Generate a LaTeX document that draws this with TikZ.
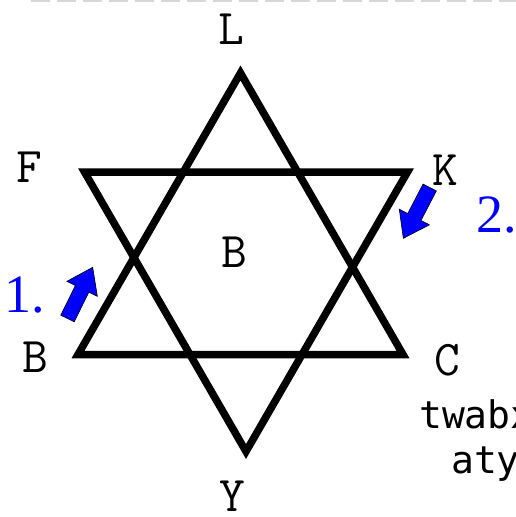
\documentclass[tikz,border=0pt]{standalone}
\usepackage{fontspec}
\usepackage{xcolor}
\usetikzlibrary{calc}
\newfontfamily\numfont{Liberation Serif}
\newfontfamily\notefont{DejaVu Sans Mono}
\definecolor{arrowblue}{RGB}{0,0,255}
\definecolor{dashgray}{RGB}{215,215,215}

% fat block arrow from a tail coordinate to a tip coordinate
\newcommand{\blockarrow}[2]{%
  \coordinate (#1hb) at ($(#2)!24pt!(#1)$);
  \draw[bigarrow]
    ($(#1)!7.5pt!90:(#2)$) -- ($(#1hb)!7.5pt!-90:(#1)$)
    -- ($(#1hb)!17pt!-90:(#1)$) -- (#2)
    -- ($(#1hb)!17pt!90:(#1)$) -- ($(#1hb)!7.5pt!90:(#1)$)
    -- ($(#1)!7.5pt!-90:(#2)$) -- cycle;}

\begin{document}
\begin{tikzpicture}[x=1pt, y=-1pt,
  star/.style={line width=7.5pt, line join=miter},
  lbl/.style={font=\ttfamily\fontsize{50}{60}\selectfont, inner sep=0pt},
  num/.style={font=\numfont\fontsize{54}{64}\selectfont, text=arrowblue,
    inner sep=0pt, anchor=base west},
  note/.style={font=\notefont\fontsize{38}{46}\selectfont, inner sep=0pt,
    anchor=base west},
  bigarrow/.style={fill=arrowblue, draw=black, line width=0.6pt,
    line join=miter},
]
  \useasboundingbox (0,0) rectangle (516,517);
  \clip (0,0) rectangle (516,517);

  % dashed rule along the top edge
  \draw[dashgray, line width=3pt, dash pattern=on 19pt off 7pt]
    (31,0) -- (530,0);

  % Star corners
  \coordinate (up)    at (240.5,73);
  \coordinate (upl)   at (78,354.5);
  \coordinate (upr)   at (403,354.5);
  \coordinate (dnl)   at (84.5,172);
  \coordinate (dnr)   at (407.5,172);
  \coordinate (dn)    at (246,451.5);

  % Two triangles
  \draw[star] (up) -- (upl) -- (upr) -- cycle;
  \draw[star] (dnl) -- (dnr) -- (dn) -- cycle;

  % Corner labels
  \node[lbl] (lblL) at (231,29) {L};
  \node[lbl] (lblF) at (29.5,167) {F};
  \node[lbl] (lblK) at (445,170) {K};
  \node[lbl] (lblB) at (35,357.5) {B};
  \node[lbl] (lblC) at (447.5,360) {C};
  \node[lbl] (lblY) at (232.5,496) {Y};
  \node[lbl] (lblM) at (234,252.5) {B};

  % Blue arrows
  \coordinate (aonet) at (67.5,318.5);
  \coordinate (aoneh) at (92.7,267.3);
  \blockarrow{aonet}{aoneh}
  \coordinate (atwot) at (429.7,187.5);
  \coordinate (atwoh) at (403.3,238.3);
  \blockarrow{atwot}{atwoh}

  % Step numbers
  \node[num] (stepone) at (4,312) {1.};
  \node[num] (steptwo) at (476,232) {2.};

  % Side note, cut by the edge
  \node[note] (noteone) at (419,428) {twabx};
  \node[note] (notetwo) at (451,473) {aty};
\end{tikzpicture}
\end{document}
